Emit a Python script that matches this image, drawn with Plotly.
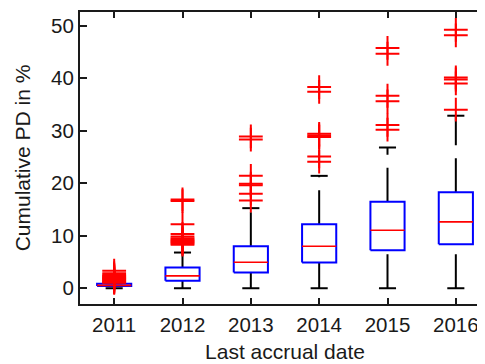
import plotly.graph_objects as go

categories = ["2011", "2012", "2013", "2014", "2015", "2016"]
lower_whisker = [0.0, 0.0, 0.0, 0.0, 0.0, 0.0]
q1 = [0.45, 1.45, 2.99, 4.9, 7.24, 8.39]
median = [0.55, 2.35, 4.96, 8.0, 11.05, 12.64]
q3 = [0.85, 3.93, 8.0, 12.2, 16.45, 18.3]
upper_whisker = [0.95, 6.8, 15.25, 21.4, 26.8, 32.85]
outliers = [
    [3.35, 2.85, 2.55, 2.4, 2.25, 2.1, 1.95, 1.8, 1.7, 1.55, 1.4, 1.3, 1.15, 1.05],
    [16.9, 16.6, 12.2, 10.35, 9.85, 9.5, 9.3, 9.1, 8.9, 8.7, 8.5, 8.3],
    [28.9, 28.3, 21.4, 19.9, 19.6, 18.0, 16.7],
    [38.3, 37.4, 29.4, 29.1, 28.8, 25.1, 24.1],
    [45.75, 44.65, 36.65, 35.6, 31.1, 30.2],
    [49.2, 48.15, 40.15, 39.75, 39.0, 34.0],
]
y_ticks = [0, 10, 20, 30, 40, 50]

BOX_HALF = 0.25
CAP_HALF = 0.125
FONT = "Arial, Liberation Sans, sans-serif"
TXT = "#1a1a1a"

fig = go.Figure()
xs = list(range(1, len(categories) + 1))

# whiskers (dashed), drawn from first point so dash pattern starts there
for x, lo, a, b, hi in zip(xs, lower_whisker, q1, q3, upper_whisker):
    for seg in ([lo, a], [b, hi]):
        fig.add_trace(go.Scatter(x=[x, x], y=seg, mode="lines",
                                 line=dict(color="black", width=2, dash="34px,13px"),
                                 hoverinfo="skip", showlegend=False))
    cx, cy = [], []
    for v in (lo, hi):
        cx += [x - CAP_HALF, x + CAP_HALF, None]
        cy += [v, v, None]
    fig.add_trace(go.Scatter(x=cx, y=cy, mode="lines",
                             line=dict(color="black", width=2),
                             hoverinfo="skip", showlegend=False))

# boxes
for x, a, b in zip(xs, q1, q3):
    fig.add_trace(go.Scatter(
        x=[x - BOX_HALF, x + BOX_HALF, x + BOX_HALF, x - BOX_HALF, x - BOX_HALF],
        y=[a, a, b, b, a], mode="lines",
        line=dict(color="#0000ff", width=2),
        hoverinfo="skip", showlegend=False))

# medians
for x, m in zip(xs, median):
    fig.add_trace(go.Scatter(x=[x - BOX_HALF, x + BOX_HALF], y=[m, m], mode="lines",
                             line=dict(color="#ff0000", width=1.6),
                             hoverinfo="skip", showlegend=False))

# outliers
for x, vals in zip(xs, outliers):
    fig.add_trace(go.Scatter(x=[x] * len(vals), y=vals, mode="markers",
                             marker=dict(symbol="cross-thin-open", size=17, color="#ff0000",
                                         line=dict(color="#ff0000", width=2)),
                             hoverinfo="skip", showlegend=False))

fig.update_layout(
    width=485, height=364,
    margin=dict(l=72, r=3, t=4, b=68, autoexpand=False),
    paper_bgcolor="white", plot_bgcolor="white",
    font=dict(family=FONT, size=20.5, color=TXT),
    xaxis=dict(range=[0.5, 6.5], tickvals=xs, ticktext=categories,
               automargin=False,
               showgrid=False, zeroline=False,
               showline=True, linecolor="#1a1a1a", linewidth=2, mirror="ticks",
               ticks="inside", ticklen=6, tickwidth=1.5, tickcolor="#1a1a1a",
               ticklabelstandoff=1,
               title=dict(text="Last accrual date", font=dict(size=21), standoff=10)),
    yaxis=dict(range=[-3.0, 52.6], tickvals=y_ticks,
               automargin=False,
               showgrid=False, zeroline=False,
               showline=True, linecolor="#1a1a1a", linewidth=2, mirror="ticks",
               ticks="inside", ticklen=7, tickwidth=1.5, tickcolor="#1a1a1a",
               title=dict(text="Cumulative PD in %", font=dict(size=21), standoff=15)),
)

fig.write_html("out.html")
